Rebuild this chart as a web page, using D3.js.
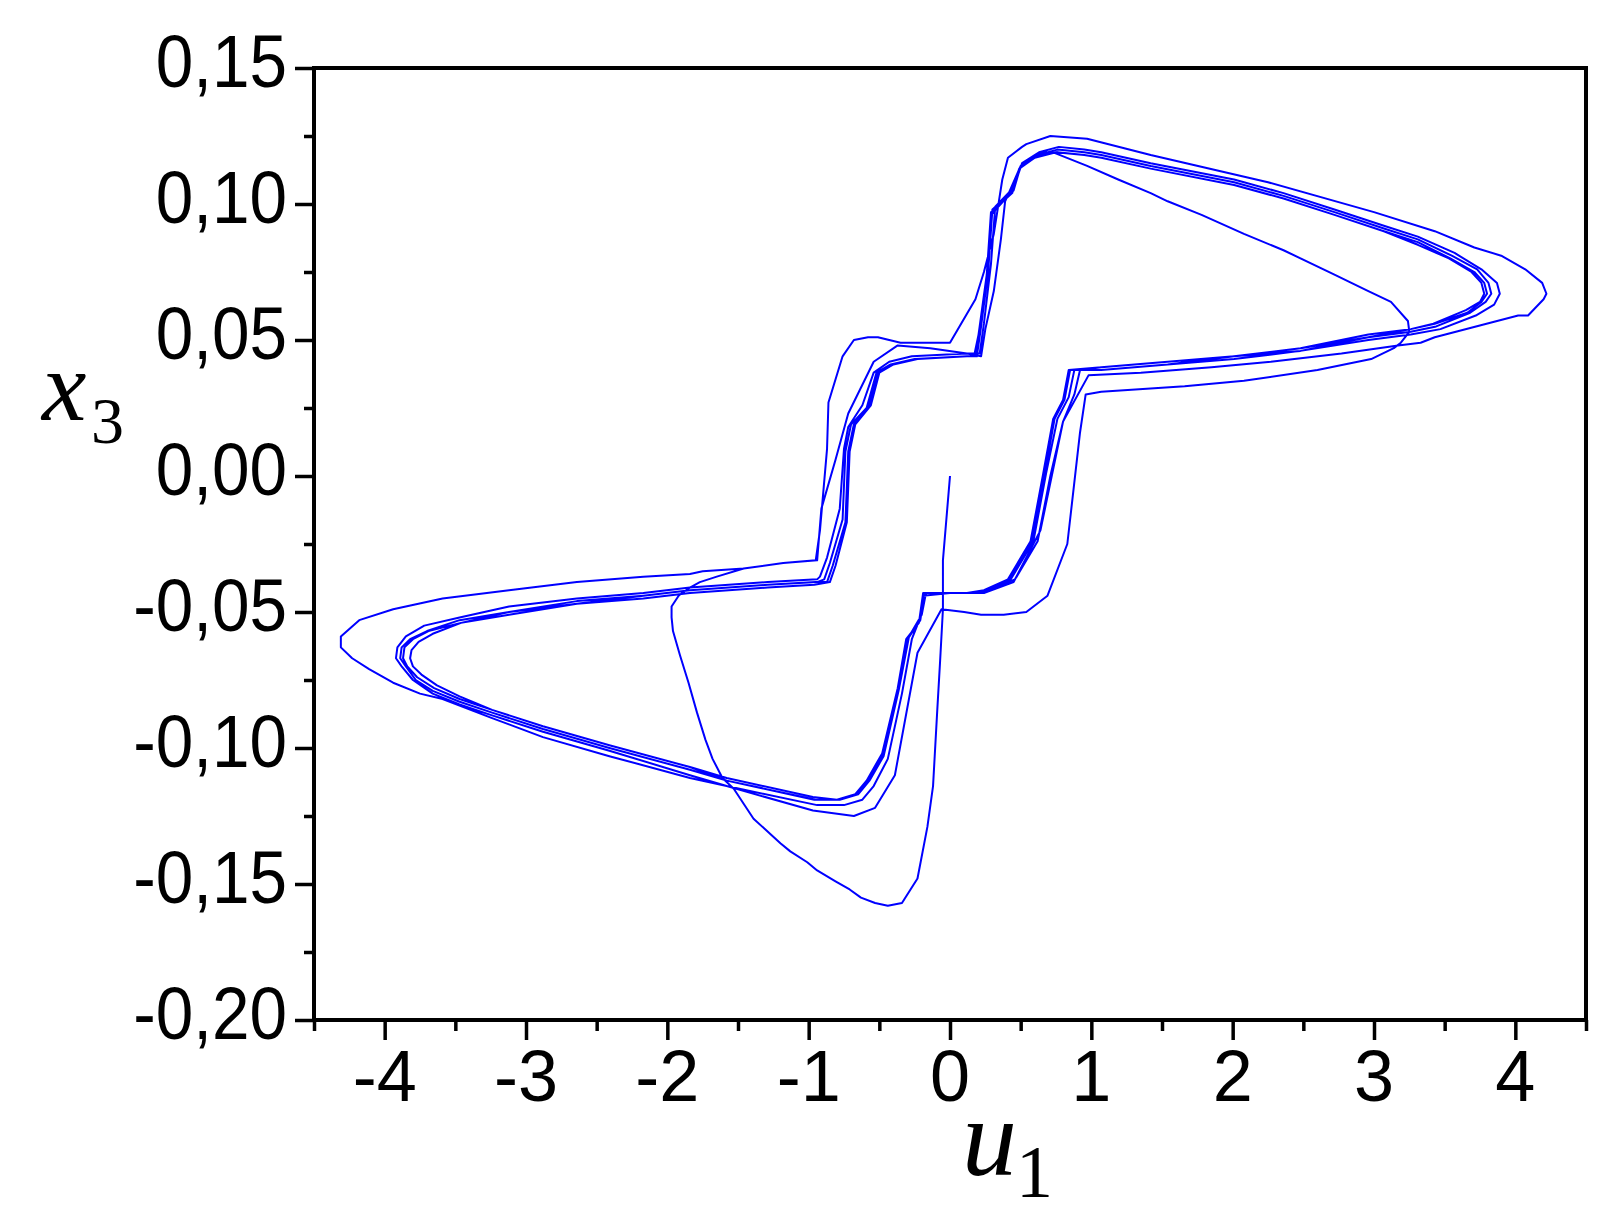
<!DOCTYPE html>
<html>
<head>
<meta charset="utf-8">
<script src="https://cdn.jsdelivr.net/npm/d3@7"></script>
<style>
  body { margin: 0; background: #fff; }
</style>
</head>
<body>
<script>
"use strict";

// trajectory pieces [u1, x3], in drawing order
var transient = [
  [0.00, 0.000], [-0.05, -0.031], [-0.05, -0.049], [-0.07, -0.068], [-0.09, -0.086], [-0.12, -0.114],
  [-0.16, -0.129], [-0.23, -0.148], [-0.34, -0.157], [-0.44, -0.158], [-0.53, -0.157], [-0.63, -0.155],
  [-0.71, -0.152], [-0.81, -0.149], [-0.94, -0.145], [-1.01, -0.142], [-1.13, -0.138], [-1.20, -0.135],
  [-1.39, -0.126], [-1.53, -0.115], [-1.61, -0.111], [-1.68, -0.104], [-1.73, -0.097], [-1.79, -0.087],
  [-1.85, -0.076], [-1.91, -0.066], [-1.96, -0.057], [-1.97, -0.052], [-1.97, -0.048], [-1.92, -0.044],
  [-1.84, -0.041], [-1.77, -0.039], [-1.65, -0.037], [-1.46, -0.034], [-1.18, -0.032], [-0.94, -0.031]
];

var firstLoop = [
  [-0.91, -0.012], [-0.81, 0.006], [-0.72, 0.023], [-0.54, 0.042], [-0.37, 0.048], [-0.14, 0.047],
  [0.12, 0.045], [0.22, 0.044], [0.25, 0.054], [0.31, 0.068], [0.36, 0.087], [0.39, 0.101],
  [0.50, 0.114], [0.64, 0.119], [0.73, 0.119], [0.97, 0.114], [1.19, 0.109], [1.42, 0.104],
  [1.54, 0.101], [1.78, 0.096], [2.08, 0.089], [2.36, 0.083], [2.72, 0.074], [2.96, 0.068],
  [3.12, 0.064], [3.24, 0.057], [3.25, 0.053], [3.19, 0.049], [3.14, 0.047], [2.98, 0.043],
  [2.60, 0.039], [2.08, 0.035], [1.66, 0.033], [1.07, 0.031], [0.96, 0.030], [0.92, 0.016],
  [0.83, -0.025], [0.69, -0.044], [0.54, -0.050], [0.38, -0.051], [0.22, -0.051], [0.10, -0.050],
  [-0.06, -0.049], [-0.23, -0.065], [-0.39, -0.110], [-0.53, -0.122], [-0.68, -0.125], [-0.97, -0.123],
  [-1.58, -0.114], [-1.84, -0.111], [-2.41, -0.103], [-2.88, -0.096], [-3.24, -0.089], [-3.59, -0.082],
  [-3.75, -0.080], [-3.94, -0.076], [-4.11, -0.071], [-4.23, -0.067], [-4.31, -0.063], [-4.31, -0.059],
  [-4.18, -0.053], [-3.94, -0.049], [-3.59, -0.045], [-3.12, -0.042], [-2.64, -0.039], [-2.17, -0.037],
  [-1.84, -0.036], [-1.75, -0.035], [-1.46, -0.034], [-1.18, -0.032], [-0.95, -0.031]
];

var outerLoop = [
  [-0.92, -0.020], [-0.87, 0.010], [-0.86, 0.027], [-0.76, 0.044], [-0.68, 0.050], [-0.58, 0.051],
  [-0.51, 0.051], [-0.35, 0.049], [-0.19, 0.049], [0.00, 0.049], [0.18, 0.065], [0.24, 0.075],
  [0.31, 0.089], [0.37, 0.109], [0.41, 0.117], [0.51, 0.121], [0.54, 0.122], [0.71, 0.125],
  [0.97, 0.124], [1.42, 0.118], [2.25, 0.108], [3.00, 0.097], [3.43, 0.090], [3.71, 0.084],
  [3.90, 0.081], [4.07, 0.076], [4.19, 0.071], [4.22, 0.067], [4.20, 0.065], [4.09, 0.059],
  [4.02, 0.059], [3.43, 0.051], [3.33, 0.049], [3.17, 0.048], [2.77, 0.045], [2.27, 0.042],
  [1.85, 0.040], [1.35, 0.038], [0.98, 0.037], [0.80, 0.020], [0.64, -0.020], [0.45, -0.039],
  [0.24, -0.043], [0.00, -0.043], [-0.19, -0.044]
];

var cycleA = [
  [-0.21, -0.052], [-0.27, -0.060], [-0.34, -0.080], [-0.44, -0.104], [-0.54, -0.114], [-0.62, -0.119],
  [-0.75, -0.121], [-0.94, -0.121], [-1.58, -0.114], [-1.84, -0.110], [-2.41, -0.101], [-2.88, -0.094],
  [-3.24, -0.088], [-3.47, -0.084], [-3.66, -0.080], [-3.80, -0.075], [-3.88, -0.070], [-3.92, -0.067],
  [-3.91, -0.063], [-3.85, -0.059], [-3.72, -0.055], [-3.47, -0.052], [-3.12, -0.048], [-2.64, -0.045],
  [-2.17, -0.043], [-1.84, -0.041], [-1.29, -0.039], [-0.94, -0.038], [-0.92, -0.037], [-0.87, -0.030],
  [-0.78, -0.012], [-0.75, 0.010], [-0.72, 0.018], [-0.62, 0.026], [-0.54, 0.038], [-0.43, 0.042],
  [-0.27, 0.044], [0.12, 0.045], [0.21, 0.045], [0.24, 0.056], [0.29, 0.078], [0.32, 0.099],
  [0.45, 0.106], [0.51, 0.115], [0.63, 0.119], [0.77, 0.121], [0.95, 0.120], [1.07, 0.119],
  [1.42, 0.115], [2.01, 0.109], [2.36, 0.104], [2.72, 0.098], [3.07, 0.092], [3.31, 0.088],
  [3.57, 0.082], [3.76, 0.076], [3.87, 0.071], [3.89, 0.067], [3.85, 0.063], [3.72, 0.059],
  [3.47, 0.054], [3.26, 0.052], [2.96, 0.050], [2.48, 0.046], [2.01, 0.044], [1.54, 0.042],
  [1.07, 0.040], [0.92, 0.039], [0.88, 0.030], [0.80, 0.020], [0.71, 0.000], [0.62, -0.024],
  [0.46, -0.038], [0.27, -0.042], [0.12, -0.043], [-0.17, -0.043]
];

var cycleB = [
  [-0.20, -0.051], [-0.29, -0.059], [-0.36, -0.078], [-0.47, -0.103], [-0.57, -0.112], [-0.65, -0.117],
  [-0.78, -0.119], [-0.95, -0.119], [-1.58, -0.112], [-1.84, -0.108], [-2.41, -0.100], [-2.88, -0.093],
  [-3.24, -0.087], [-3.47, -0.083], [-3.66, -0.079], [-3.78, -0.075], [-3.85, -0.070], [-3.89, -0.067],
  [-3.88, -0.063], [-3.82, -0.060], [-3.70, -0.057], [-3.47, -0.053], [-3.12, -0.050], [-2.64, -0.046],
  [-2.17, -0.044], [-1.84, -0.042], [-1.29, -0.040], [-0.94, -0.039], [-0.89, -0.038], [-0.85, -0.032],
  [-0.76, -0.016], [-0.74, 0.009], [-0.70, 0.019], [-0.59, 0.025], [-0.52, 0.038], [-0.42, 0.041],
  [-0.25, 0.043], [0.12, 0.044], [0.19, 0.044], [0.22, 0.055], [0.27, 0.075], [0.30, 0.098],
  [0.45, 0.105], [0.50, 0.114], [0.62, 0.118], [0.76, 0.120], [0.95, 0.119], [1.07, 0.118],
  [1.42, 0.114], [2.01, 0.108], [2.36, 0.103], [2.72, 0.097], [3.07, 0.091], [3.31, 0.087],
  [3.55, 0.081], [3.73, 0.076], [3.81, 0.071], [3.83, 0.067], [3.79, 0.064], [3.68, 0.060],
  [3.44, 0.055], [3.26, 0.053], [2.96, 0.051], [2.48, 0.046], [2.01, 0.043], [1.54, 0.041],
  [1.07, 0.039], [0.88, 0.039], [0.84, 0.029], [0.76, 0.021], [0.68, 0.001], [0.59, -0.024],
  [0.43, -0.038], [0.26, -0.042], [0.12, -0.043], [-0.18, -0.043]
];

var cycleC = [
  [-0.21, -0.053], [-0.30, -0.060], [-0.37, -0.079], [-0.48, -0.103], [-0.58, -0.112], [-0.66, -0.117],
  [-0.79, -0.119], [-0.96, -0.119], [-1.58, -0.112], [-1.84, -0.107], [-2.41, -0.099], [-2.88, -0.092],
  [-3.24, -0.086], [-3.47, -0.082], [-3.65, -0.078], [-3.77, -0.074], [-3.84, -0.070], [-3.87, -0.067],
  [-3.86, -0.063], [-3.80, -0.060], [-3.69, -0.057], [-3.46, -0.054], [-3.12, -0.050], [-2.64, -0.047],
  [-2.17, -0.044], [-1.84, -0.042], [-1.29, -0.040], [-0.95, -0.039], [-0.87, -0.039], [-0.83, -0.033],
  [-0.74, -0.017], [-0.72, 0.009], [-0.68, 0.019], [-0.57, 0.026], [-0.51, 0.038], [-0.41, 0.041],
  [-0.24, 0.043], [0.12, 0.044], [0.18, 0.044], [0.21, 0.055], [0.26, 0.074], [0.29, 0.097],
  [0.44, 0.104], [0.49, 0.113], [0.61, 0.118], [0.76, 0.119], [0.95, 0.118], [1.07, 0.117],
  [1.42, 0.113], [2.01, 0.107], [2.36, 0.102], [2.72, 0.096], [3.07, 0.090], [3.31, 0.086],
  [3.54, 0.080], [3.71, 0.075], [3.78, 0.071], [3.80, 0.067], [3.76, 0.064], [3.66, 0.060],
  [3.43, 0.056], [3.26, 0.054], [2.96, 0.051], [2.48, 0.047], [2.01, 0.044], [1.54, 0.041],
  [1.07, 0.039], [0.85, 0.039], [0.81, 0.028], [0.74, 0.021], [0.67, 0.001], [0.58, -0.024],
  [0.42, -0.038], [0.25, -0.042], [0.12, -0.043], [-0.19, -0.043]
];

var cycleD = [
  [-0.22, -0.054], [-0.31, -0.060], [-0.37, -0.078], [-0.48, -0.102], [-0.59, -0.112], [-0.67, -0.117],
  [-0.80, -0.119], [-0.97, -0.118], [-1.58, -0.111], [-1.84, -0.107], [-2.41, -0.099], [-2.88, -0.092],
  [-3.24, -0.086], [-3.47, -0.081], [-3.63, -0.077], [-3.74, -0.073], [-3.80, -0.070], [-3.82, -0.067],
  [-3.81, -0.064], [-3.76, -0.061], [-3.66, -0.058], [-3.46, -0.054], [-3.12, -0.051], [-2.64, -0.047],
  [-2.17, -0.045], [-1.84, -0.043], [-1.29, -0.041], [-0.96, -0.040], [-0.85, -0.039], [-0.81, -0.033],
  [-0.73, -0.017], [-0.71, 0.009], [-0.67, 0.019], [-0.56, 0.026], [-0.50, 0.038], [-0.40, 0.041],
  [-0.23, 0.043], [0.12, 0.044], [0.17, 0.044], [0.21, 0.054], [0.26, 0.073], [0.29, 0.096],
  [0.43, 0.104], [0.49, 0.113], [0.60, 0.117], [0.75, 0.119], [0.95, 0.118], [1.07, 0.117],
  [1.42, 0.113], [2.01, 0.107], [2.36, 0.102], [2.72, 0.096], [3.07, 0.090], [3.31, 0.085],
  [3.53, 0.080], [3.69, 0.075], [3.76, 0.071], [3.78, 0.067], [3.75, 0.064], [3.65, 0.061],
  [3.42, 0.056], [3.26, 0.054], [2.96, 0.052], [2.48, 0.047], [2.01, 0.044], [1.54, 0.042],
  [1.07, 0.040], [0.84, 0.039], [0.80, 0.028], [0.73, 0.021], [0.66, 0.001], [0.57, -0.024],
  [0.41, -0.038], [0.24, -0.042], [0.12, -0.043]
];

// tick values
var xTicks = [-4, -3, -2, -1, 0, 1, 2, 3, 4];
var xMinorTicks = [-4.5, -3.5, -2.5, -1.5, -0.5, 0.5, 1.5, 2.5, 3.5, 4.5];
var yTicks = [-0.2, -0.15, -0.1, -0.05, 0, 0.05, 0.1, 0.15];
var yMinorTicks = [-0.175, -0.125, -0.075, -0.025, 0.025, 0.075, 0.125];

// layout
var width = 1608;
var height = 1215;
var plotLeft = 314;
var plotRight = 1586;
var plotTop = 68;
var plotBottom = 1020;

var svg = d3.select("body").append("svg")
  .attr("width", width)
  .attr("height", height)
  .style("display", "block");

var x = d3.scaleLinear().domain([-4.5, 4.5]).range([plotLeft, plotRight]);
var y = d3.scaleLinear().domain([-0.2, 0.15]).range([plotBottom, plotTop]);

// comma decimal, plain hyphen for minus
var locale = d3.formatLocale({ decimal: ",", thousands: " ", grouping: [3], currency: ["", ""], minus: "-" });
var yFormat = locale.format(".2f");
var xFormat = locale.format("d");

// the trajectory
var trajectory = [].concat(transient, firstLoop, outerLoop, cycleA, cycleB, cycleC, cycleD);

var line = d3.line()
  .x(function (d) { return x(d[0]); })
  .y(function (d) { return y(d[1]); });

svg.append("path")
  .datum(trajectory)
  .attr("d", line)
  .style("fill", "none")
  .style("stroke", "#0000ff")
  .style("stroke-width", 2)
  .style("stroke-linejoin", "round");

// ticks, outward
function styleTicks(g) {
  g.select(".domain").remove();
  g.selectAll(".tick line").style("stroke", "#000").style("stroke-width", 3.5);
}

svg.append("g").attr("transform", "translate(0," + plotBottom + ")")
  .call(d3.axisBottom(x).tickValues(xTicks).tickSize(20).tickSizeOuter(0).tickFormat(""))
  .call(styleTicks);
svg.append("g").attr("transform", "translate(0," + plotBottom + ")")
  .call(d3.axisBottom(x).tickValues(xMinorTicks).tickSize(11).tickSizeOuter(0).tickFormat(""))
  .call(styleTicks);
svg.append("g").attr("transform", "translate(" + plotLeft + ",0)")
  .call(d3.axisLeft(y).tickValues(yTicks).tickSize(19).tickSizeOuter(0).tickFormat(""))
  .call(styleTicks);
svg.append("g").attr("transform", "translate(" + plotLeft + ",0)")
  .call(d3.axisLeft(y).tickValues(yMinorTicks).tickSize(10).tickSizeOuter(0).tickFormat(""))
  .call(styleTicks);

// frame
svg.append("rect")
  .attr("x", plotLeft)
  .attr("y", plotTop)
  .attr("width", plotRight - plotLeft)
  .attr("height", plotBottom - plotTop)
  .style("fill", "none")
  .style("stroke", "#000")
  .style("stroke-width", 4);

// tick labels
svg.append("g").selectAll("text")
  .data(xTicks)
  .join("text")
  .attr("transform", function (d) { return "translate(" + x(d) + "," + (plotBottom + 81) + ")"; })
  .attr("text-anchor", "middle")
  .style("font-family", "'Liberation Sans', Arial, sans-serif")
  .style("font-size", "72px")
  .text(function (d) { return xFormat(d); });

svg.append("g").selectAll("text")
  .data(yTicks)
  .join("text")
  .attr("transform", function (d) { return "translate(287," + (y(d) + 19) + ") scale(0.9,1)"; })
  .attr("text-anchor", "end")
  .style("font-family", "'Liberation Sans', Arial, sans-serif")
  .style("font-size", "75px")
  .text(function (d) { return yFormat(d); });

// axis titles
var serif = "'Liberation Serif', 'Times New Roman', serif";

svg.append("text").attr("x", 42).attr("y", 420)
  .style("font-family", serif).style("font-style", "italic").style("font-size", "100px")
  .text("x");
svg.append("text").attr("x", 91).attr("y", 443)
  .style("font-family", serif).style("font-size", "66px")
  .text("3");

svg.append("text").attr("x", 962).attr("y", 1175)
  .style("font-family", serif).style("font-style", "italic").style("font-size", "110px")
  .text("u");
svg.append("text").attr("x", 1016).attr("y", 1197)
  .style("font-family", serif).style("font-size", "74px")
  .text("1");
</script>
</body>
</html>
